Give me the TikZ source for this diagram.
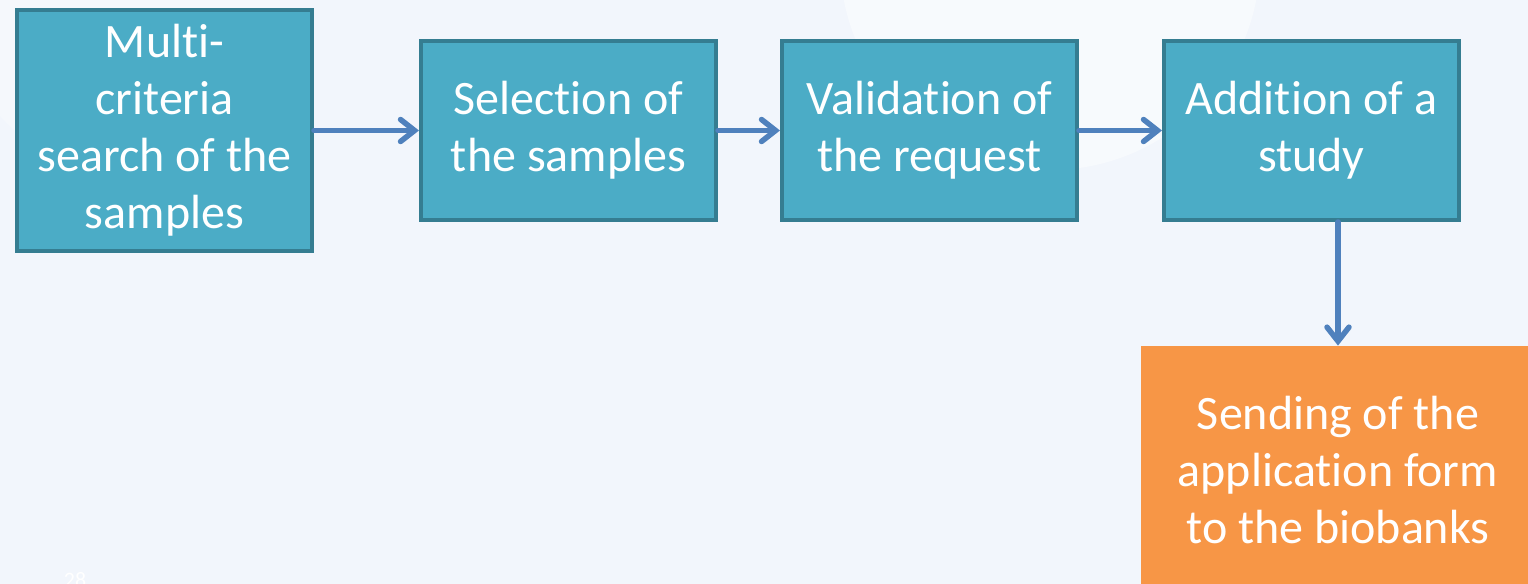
\documentclass[tikz,border=0pt]{standalone}
\usepackage{fontspec}
\setmainfont{Carlito}[Ligatures={NoCommon,NoContextual}]
\usetikzlibrary{positioning,arrows.meta}
\definecolor{slidebg}{RGB}{242,246,252}
\definecolor{stepfill}{RGB}{75,172,198}
\definecolor{stepline}{RGB}{53,125,145}
\definecolor{sendfill}{RGB}{247,150,70}
\definecolor{flowblue}{RGB}{79,129,189}
\tikzset{
  stepbox/.style={draw=stepline, line width=2pt, fill=stepfill, text=white,
    align=center, inner sep=0pt, minimum width=147.5pt,
    font=\fontsize{24}{28.5}\selectfont},
  sendbox/.style={fill=sendfill, text=white, align=center, inner sep=0pt,
    minimum width=197pt, minimum height=124pt,
    font=\fontsize{24}{28.5}\selectfont},
  flow/.style={draw=flowblue, line width=2.75pt, line cap=round,
    -{Straight Barb[length=7pt,width=11pt,line cap=round]}}
}

\begin{document}
\begin{tikzpicture}[x=0.5pt,y=-0.5pt]
   \useasboundingbox (0,0) rectangle (1528,584);
   \fill[slidebg] (0,0) rectangle (1528,584);
   % faint spheres of the slide background
   \fill[white,opacity=0.45] (1050,-40) circle (210);
   \fill[white,opacity=0.25] (120,10) circle (160);
        \node [stepbox, minimum height=120.5pt] (search) at (164.5,130.5) {Multi-\\criteria\\search of the\\samples};
        \node [stepbox, minimum height=89.5pt] (select) at (568.5,130.5) {Selection of\\the samples};
        \node [stepbox, minimum height=89.5pt] (valid) at (929.5,130.5) {Validation of\\the request};
        \node [stepbox, minimum height=89.5pt] (study) at (1311.5,130.5) {Addition of a\\study};
        \node [sendbox] (send) at (1338,470) {Sending of the\\application form\\to the biobanks};
   \draw[flow] (search.east |- select.west) -- (select.west);
   \draw[flow] (select) -- (valid);
   \draw[flow] (valid) -- (study);
   \draw[flow] (send.north |- study.south) -- (send.north);
   % slide number, cut by the page edge
   \node [white, anchor=north, inner sep=0pt, font=\fontsize{11}{13}\selectfont] (pagenum) at (75,572) {28};
\end{tikzpicture}
\end{document}
